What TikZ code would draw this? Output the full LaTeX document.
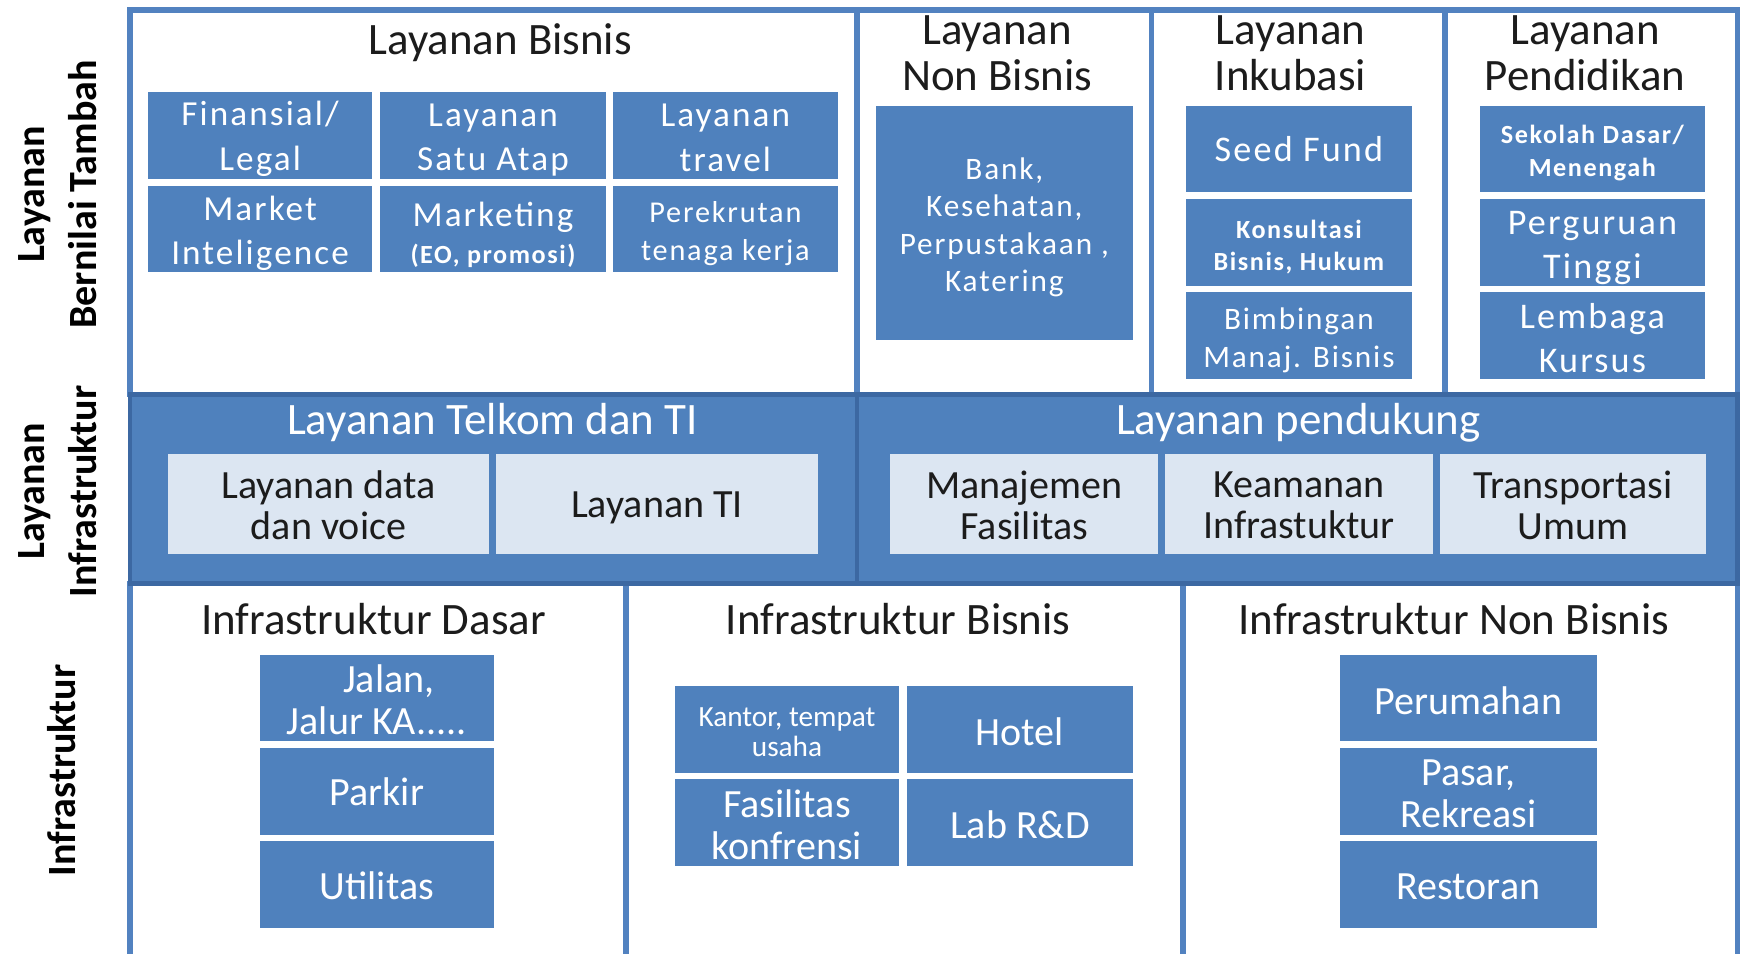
\documentclass[tikz,border=0pt]{standalone}
\usepackage{fontspec}
\setmainfont{Carlito}
\newfontfamily\widefont[LetterSpace=6]{Carlito}
\definecolor{boxblue}{HTML}{4F81BD}
\definecolor{framblue}{HTML}{5282C0}
\definecolor{bandedge}{HTML}{3C68A2}
\definecolor{lightbox}{HTML}{DCE6F2}
\definecolor{headtxt}{HTML}{1C1C1C}
\newcommand{\fs}[2]{\fontsize{#1}{#2}\selectfont}
% \bx{style}{name}{x1}{y1}{x2}{y2}{text}{text shift down, px}
\newcommand{\bx}[8]{%
  \node[#1, minimum width={(#5-#3)*0.02cm}, minimum height={(#6-#4)*0.02cm}] (#2) at ({(#3+#5)/2},{(#4+#6)/2}) {};
  \node[#1, fill=none, minimum width=0pt, minimum height=0pt] (#2t) at ([yshift={-(#8)*0.02cm}]#2.center) {#7};}
\tikzset{
  cell/.style={draw=framblue, line width=2.8pt},
  band/.style={fill=boxblue, draw=bandedge, line width=2.4pt},
  dbox/.style={fill=boxblue, draw=none, inner sep=0pt, text=white, align=center},
  lbox/.style={fill=lightbox, draw=none, inner sep=0pt, text=headtxt, align=center, font=\fs{20.5}{21}},
  head/.style={text=headtxt, align=center, inner sep=0pt, font=\fs{23}{23.4}},
  whead/.style={text=white, align=center, inner sep=0pt, font=\fs{23}{23.4}},
  side/.style={text=black, align=center, inner sep=0pt, rotate=90, font=\bfseries\fs{20.5}{26.7}},
  tw/.style={font=\widefont\fs{18}{22.8}},
  bt/.style={font=\fs{20.5}{21.5}}
}
\begin{document}
\begin{tikzpicture}[x=0.02cm,y=-0.02cm]
\useasboundingbox (0,0) rectangle (1568,858);
\fill[white] (0,0) rectangle (1568,858);
% top cells
\draw[cell] (117,9) rectangle (771,355);
\draw[cell] (771,9) rectangle (1036,355);
\draw[cell] (1036,9) rectangle (1300,355);
\draw[cell] (1300,9) rectangle (1563,355);
% bottom cells
\draw[cell] (117,525) rectangle (563,900);
\draw[cell] (563,525) rectangle (1064,900);
\draw[cell] (1064,525) rectangle (1563,900);
% middle band
\draw[band] (117,355) rectangle (1563,525);
\draw[draw=bandedge, line width=2.4pt] (771,355) -- (771,525);

% side labels
\node[side] (s1) at (52,175) {Layanan\\Bernilai Tambah};
\node[side] (s2) at (52,442) {Layanan\\Infrastruktur};
\node[side] (s3) at (55,693) {Infrastruktur};

% headings
\node[head] (hbis) at (450,38) {Layanan Bisnis};
\node[head] (hnon) at (897,48) {Layanan\\Non Bisnis};
\node[head] (hink) at (1161,48) {Layanan\\Inkubasi};
\node[head] (hpen) at (1426,48) {Layanan\\Pendidikan};
\node[whead] (htel) at (443,380) {Layanan Telkom dan TI};
\node[whead] (hpdk) at (1168,380) {Layanan pendukung};
\node[head] (hdas) at (336,557) {Infrastruktur Dasar};
\node[head] (hibs) at (808,557) {Infrastruktur Bisnis};
\node[head] (hinb) at (1308,557) {Infrastruktur Non Bisnis};

% Layanan Bisnis boxes
\bx{dbox, tw}{b1}{133}{83}{335}{161}{Finansial/\\Legal}{3}
\bx{dbox, tw}{b2}{342}{83}{545}{161}{Layanan\\Satu Atap}{4}
\bx{dbox, tw}{b3}{551}{83}{754}{161}{Layanan\\travel}{2}
\bx{dbox, tw}{b4}{133}{167}{335}{245}{Market\\Inteligence}{4}
\bx{dbox, tw}{b5}{342}{167}{545}{245}{Marketing\\[-4pt]{\bfseries\fs{13.4}{18}(EO, promosi)}}{5.5}
\bx{dbox, font=\widefont\fs{15.5}{19.5}}{b6}{551}{167}{754}{245}{Perekrutan\\tenaga kerja}{4}

% Non Bisnis
\bx{dbox, font=\widefont\fs{16}{19.2}}{nb}{788}{95}{1019}{306}{Bank,\\Kesehatan,\\Perpustakaan ,\\Katering}{4}

% Inkubasi
\bx{dbox, font=\widefont\fs{18.5}{22}}{i1}{1067}{95}{1270}{173}{Seed Fund}{0}
\bx{dbox, font=\widefont\bfseries\fs{13.4}{16.5}}{i2}{1067}{179}{1270}{257}{Konsultasi\\Bisnis, Hukum}{4}
\bx{dbox, font=\widefont\fs{16}{19.4}}{i3}{1067}{263}{1270}{341}{Bimbingan\\Manaj. Bisnis}{4}

% Pendidikan
\bx{dbox, font=\widefont\bfseries\fs{13.4}{17}}{p1}{1331}{95}{1534}{173}{Sekolah Dasar/\\Menengah}{3.5}
\bx{dbox, font=\widefont\fs{18.5}{22.8}}{p2}{1331}{179}{1534}{257}{Perguruan\\Tinggi}{5}
\bx{dbox, font=\widefont\fs{18.5}{22.8}}{p3}{1331}{263}{1534}{341}{Lembaga\\Kursus}{2}

% middle light boxes
\bx{lbox}{m1}{151}{408}{440}{498}{Layanan data\\dan voice}{1.5}
\bx{lbox}{m2}{446}{408}{736}{498}{Layanan TI}{4}
\bx{lbox}{m3}{801}{408}{1042}{498}{Manajemen\\Fasilitas}{2}
\bx{lbox}{m4}{1048}{408}{1289}{498}{Keamanan\\Infrastuktur}{2}
\bx{lbox}{m5}{1295}{408}{1535}{498}{Transportasi\\Umum}{2}

% Infrastruktur Dasar
\bx{dbox, bt}{d1}{234}{589}{444}{667}{\hspace*{0.6em}Jalan,\\Jalur KA.....}{1.5}
\bx{dbox, bt}{d2}{234}{673}{444}{751}{Parkir}{0}
\bx{dbox, bt}{d3}{234}{757}{444}{835}{Utilitas}{1}

% Infrastruktur Bisnis
\bx{dbox, font=\fs{15}{15.5}}{k1}{607}{617}{809}{695}{Kantor, tempat\\usaha}{3}
\bx{dbox, bt}{k2}{816}{617}{1019}{695}{Hotel}{2}
\bx{dbox, bt}{k3}{607}{701}{809}{779}{Fasilitas\\konfrensi}{1.5}
\bx{dbox, bt}{k4}{816}{701}{1019}{779}{Lab R\&D}{2}

% Infrastruktur Non Bisnis
\bx{dbox, bt}{n1}{1205}{589}{1437}{667}{Perumahan}{2}
\bx{dbox, bt}{n2}{1205}{673}{1437}{751}{Pasar,\\Rekreasi}{2.5}
\bx{dbox, bt}{n3}{1205}{757}{1437}{835}{Restoran}{2}
\end{tikzpicture}
\end{document}
